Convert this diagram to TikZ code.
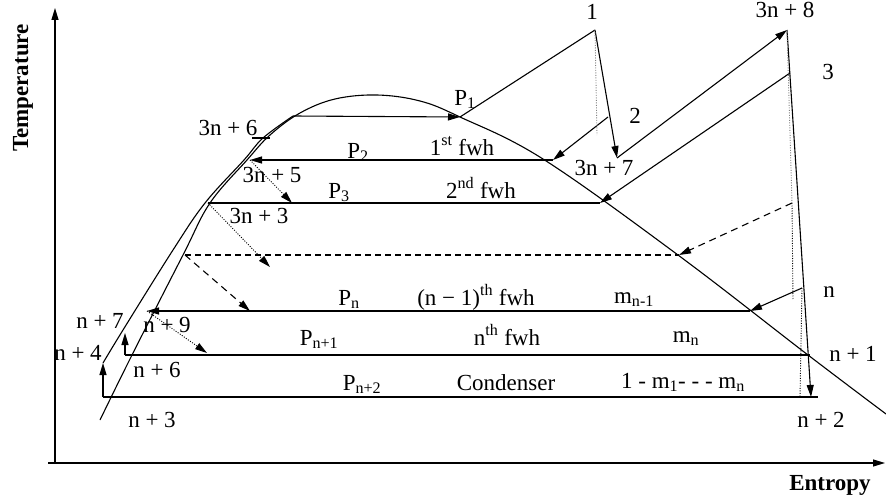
\documentclass[tikz,border=0pt]{standalone}
\usepackage{fontspec}
\setmainfont{Liberation Serif}
\usetikzlibrary{arrows.meta, positioning}

\begin{document}
\begin{tikzpicture}[
    x=1pt, y=-1pt,
    lbl/.style={font=\fontsize{23}{26}\selectfont, inner sep=0pt, anchor=base},
    axlbl/.style={lbl, font=\fontsize{23}{26}\selectfont\bfseries},
    ln/.style={line width=1.1pt},
    arr/.style={ln, -{Triangle[length=12pt, width=7pt]}},
    dasharr/.style={arr, dash pattern=on 7pt off 5pt},
    dotarr/.style={arr, line width=0.9pt, dash pattern=on 1pt off 1.5pt},
    dotln/.style={line width=0.9pt, gray, dash pattern=on 1pt off 1.5pt},
]
\useasboundingbox (0,0) rectangle (886,503);

% Axes
\coordinate (org)  at (55,463);
\coordinate (tmax) at (55,8);
\coordinate (sneg) at (48,463);
\coordinate (smax) at (885,463);
\draw[arr] (org) -- (tmax);
\draw[arr] (sneg) -- (smax);
\node[axlbl, rotate=90] (temp) at (28,88) {Temperature};
\node[axlbl] (ent) at (830,490) {Entropy};

% State points
\coordinate (a1)   at (595,30);
\coordinate (a1s)  at (597,135);
\coordinate (a2)   at (608,117);
\coordinate (a3)   at (790,73);
\coordinate (a3n7) at (617,158);
\coordinate (a3n8) at (787,30);
\coordinate (p1l)  at (293,116);
\coordinate (p1r)  at (460,117);
\coordinate (q6a)  at (252,138);
\coordinate (q6b)  at (270,138);
\coordinate (p2l)  at (250,160);
\coordinate (p2r)  at (553,160);
\coordinate (p3l)  at (208,203);
\coordinate (p3r)  at (600,203);
\coordinate (dl)   at (185,255);
\coordinate (dr)   at (679,255);
\coordinate (pnl)  at (147,311);
\coordinate (pnr)  at (750,311);
\coordinate (n6)   at (125,355);
\coordinate (n7)   at (125,333);
\coordinate (n1e)  at (810,355);
\coordinate (n3)   at (103,397);
\coordinate (n4)   at (103,363);
\coordinate (n2)   at (811,397);
\coordinate (n2e)  at (818,397);
\coordinate (xd)   at (792,203);
\coordinate (xd2)  at (793,300);
\coordinate (xn)   at (802,288);
\coordinate (xn2)  at (800,397);
\coordinate (d5)   at (292,203);
\coordinate (d3)   at (270,267);
\coordinate (dd)   at (250,311);
\coordinate (d9)   at (207,353);

% Saturation dome and compressed liquid line
\draw[ln] plot[smooth, tension=0.6] coordinates {(100,420) (132,355) (183,255) (210,203)
  (247,160) (270,135) (300,113) (335,99) (377,95) (420,101) (460,117) (543,159)
  (678,255) (808,355) (886,414)};
\draw[ln] plot[smooth, tension=0.6] coordinates {(103,363) (123,330) (173,250) (205,203)
  (244,160) (263,138) (293,116)};

% Heater pressure lines
\draw[arr] (p1l) -- (p1r);
\draw[ln] (q6a) -- (q6b);
\draw[arr] (p2r) -- (p2l);
\draw[ln] (p3l) -- (p3r);
\draw[ln, dash pattern=on 6pt off 4pt] (dl) -- (dr);
\draw[arr] (pnr) -- (pnl);
\draw[ln] (n6) -- (n1e);
\draw[ln] (n3) -- (n2e);

% Pumps
\draw[arr] (n3) -- (n4);
\draw[arr] (n6) -- (n7);

% Turbine and reheat
\draw[ln] (p1r) -- (a1);
\draw[arr] (a1) -- (a3n7);
\draw[arr] (a3n7) -- (a3n8);
\draw[arr] (a3n8) -- (n2);

% Bleeds
\draw[arr] (a2) -- (p2r);
\draw[arr] (a3) -- (p3r);
\draw[dasharr] (xd) -- (dr);
\draw[arr] (xn) -- (pnr);

% Drains
\draw[dotarr] (p2l) -- (d5);
\draw[dotarr] (p3l) -- (d3);
\draw[dasharr] (dl) -- (dd);
\draw[dotarr] (pnl) -- (d9);

% Isentropic lines
\draw[dotln] (a1) -- (a1s);
\draw[dotln] (a3n8) -- (xd);
\draw[dotln, black] (xd) -- (xd2);
\draw[dotln, black] (xn) -- (xn2);

% Labels
\node[lbl] (l1)    at (592,20)  {1};
\node[lbl] (l3n8)  at (785,18)  {3n + 8};
\node[lbl] (l3)    at (828,80)  {3};
\node[lbl] (l2)    at (635,123) {2};
\node[lbl] (l3n7)  at (604,175) {3n + 7};
\node[lbl] (lp1)   at (465,105) {P\textsubscript{1}};
\node[lbl] (l3n6)  at (228,135) {3n + 6};
\node[lbl] (lp2)   at (358,158) {P\textsubscript{2}};
\node[lbl] (lh1)   at (462,155) {1\textsuperscript{st} fwh};
\node[lbl] (l3n5)  at (272,182) {3n + 5};
\node[lbl] (lp3)   at (339,198) {P\textsubscript{3}};
\node[lbl] (lh2)   at (481,198) {2\textsuperscript{nd} fwh};
\node[lbl] (l3n3)  at (259,223) {3n + 3};
\node[lbl] (lpn)   at (349,305) {P\textsubscript{n}};
\node[lbl] (lhn1)  at (476,305) {(n − 1)\textsuperscript{th} fwh};
\node[lbl] (lmn1)  at (634,303) {m\textsubscript{n-1}};
\node[lbl] (ln)    at (829,297) {n};
\node[lbl] (ln7)   at (100,328) {n + 7};
\node[lbl] (ln9)   at (167,332) {n + 9};
\node[lbl] (ln4)   at (78,360)  {n + 4};
\node[lbl] (lpn1)  at (319,345) {P\textsubscript{n+1}};
\node[lbl] (lhn)   at (507,345) {n\textsuperscript{th} fwh};
\node[lbl] (lmn)   at (686,342) {m\textsubscript{n}};
\node[lbl] (ln1)   at (853,361) {n + 1};
\node[lbl] (ln6)   at (157,377) {n + 6};
\node[lbl] (lpn2)  at (362,390) {P\textsubscript{n+2}};
\node[lbl] (lcond) at (506,390) {Condenser};
\node[lbl] (lfrac) at (683,388) {1 - m\textsubscript{1}- - - m\textsubscript{n}};
\node[lbl] (ln3)   at (152,427) {n + 3};
\node[lbl] (ln2)   at (821,427) {n + 2};
\end{tikzpicture}
\end{document}
